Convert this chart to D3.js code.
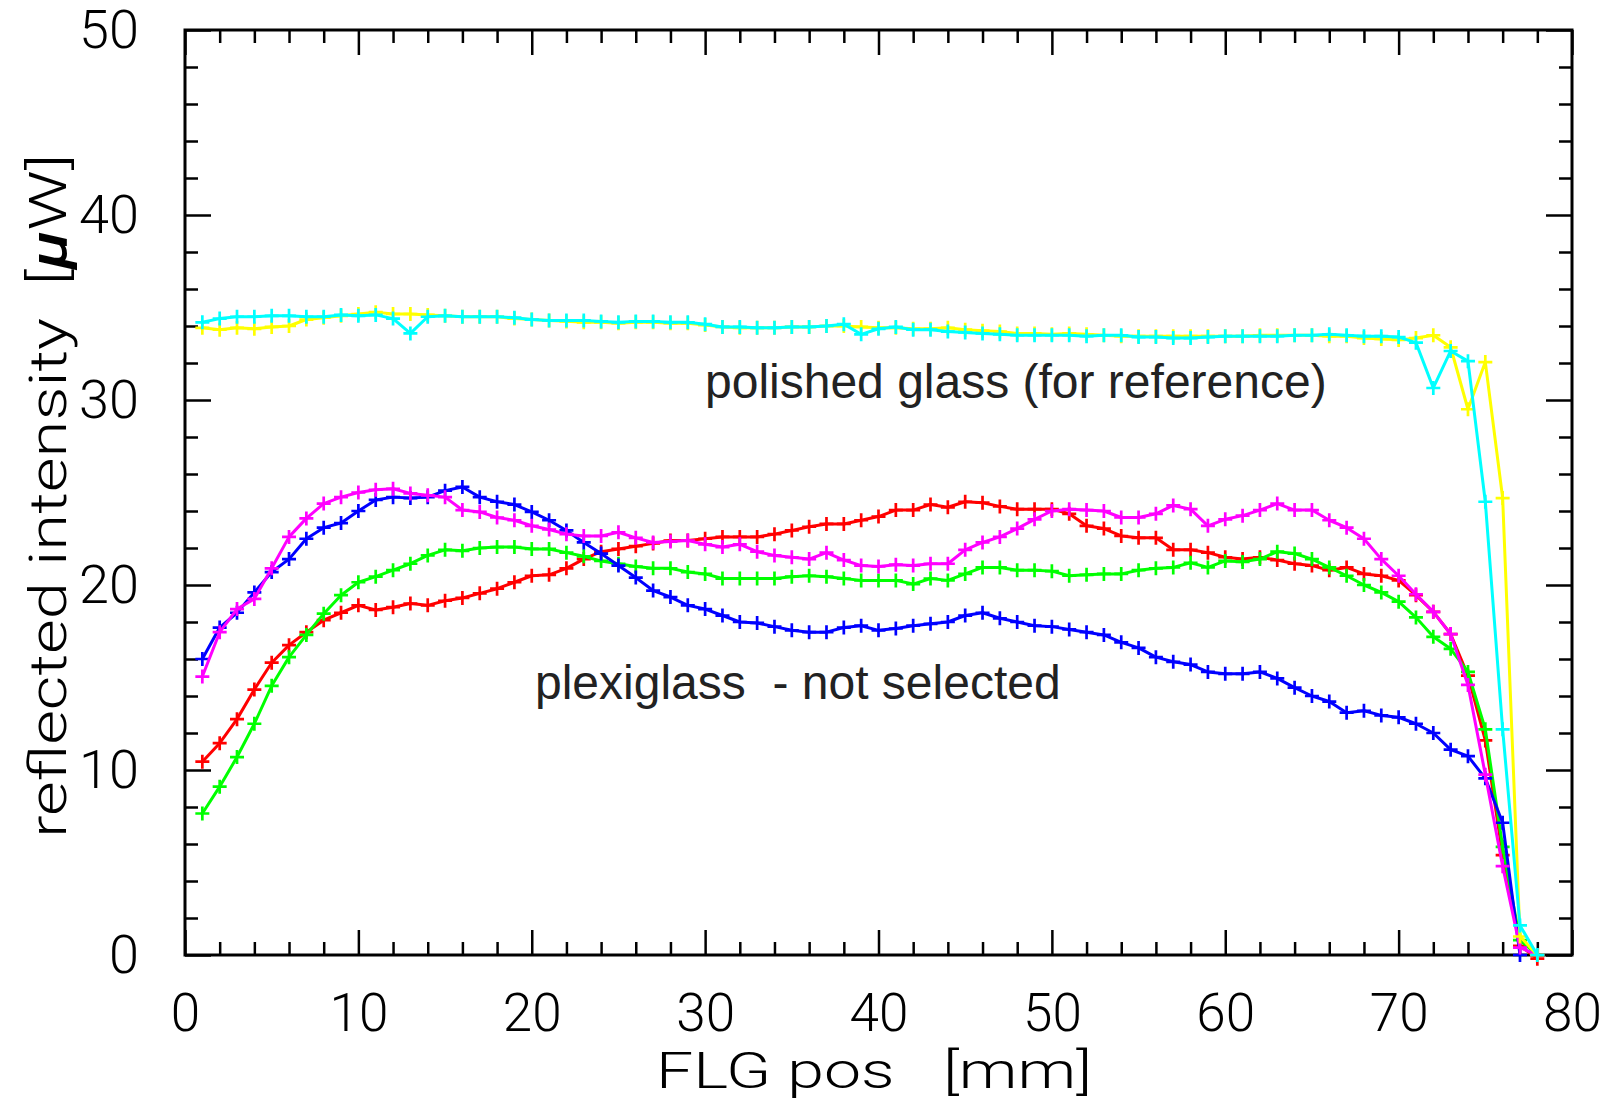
<!DOCTYPE html>
<html>
<head>
<meta charset="utf-8">
<script src="https://cdn.jsdelivr.net/npm/d3@7"></script>
<style>
  body { margin: 0; background: #fff; }
  #chart { width: 1613px; height: 1098px; }
  .tick text { font-family: Roboto, "DejaVu Sans", sans-serif; font-weight: 300; fill: #000; }
  .axisLabel { font-family: Roboto, "DejaVu Sans", sans-serif; font-weight: 300; fill: #000; }
  .note { font-family: "Liberation Sans", Arial, sans-serif; fill: #222; }
</style>
</head>
<body>
<div id="chart"></div>
<script>
// positions 1..78 mm
var pos = d3.range(1, 79);

var yellow = [33.9, 33.8, 33.9, 33.85, 33.95, 34.0, 34.35, 34.45, 34.55, 34.65, 34.75, 34.65, 34.65, 34.6, 34.55, 34.5, 34.5, 34.5, 34.4, 34.35,
  34.3, 34.25, 34.2, 34.2, 34.15, 34.2, 34.2, 34.15, 34.15, 34.05, 33.95, 33.9, 33.9, 33.9, 33.95, 33.95, 34.0, 34.0, 33.95, 33.9,
  33.9, 33.85, 33.85, 33.9, 33.8, 33.75, 33.7, 33.6, 33.6, 33.55, 33.6, 33.55, 33.5, 33.45, 33.45, 33.45, 33.45, 33.45, 33.45, 33.45,
  33.45, 33.5, 33.5, 33.5, 33.5, 33.45, 33.45, 33.35, 33.3, 33.25, 33.35, 33.5, 32.85, 29.5, 32.05, 24.7, 1.0, 0];

var cyan = [34.2, 34.4, 34.5, 34.5, 34.55, 34.55, 34.5, 34.5, 34.6, 34.55, 34.6, 34.4, 33.6, 34.5, 34.55, 34.5, 34.5, 34.5, 34.45, 34.35,
  34.3, 34.3, 34.3, 34.25, 34.2, 34.25, 34.25, 34.2, 34.2, 34.1, 33.95, 33.95, 33.9, 33.9, 33.95, 33.95, 34.0, 34.1, 33.55, 33.85,
  33.95, 33.8, 33.8, 33.7, 33.65, 33.6, 33.55, 33.5, 33.5, 33.5, 33.5, 33.45, 33.5, 33.5, 33.4, 33.4, 33.35, 33.35, 33.4, 33.45,
  33.45, 33.45, 33.45, 33.5, 33.5, 33.55, 33.5, 33.45, 33.45, 33.4, 33.1, 30.65, 32.65, 32.1, 24.5, 12.2, 1.6, 0];

var red = [10.45, 11.45, 12.75, 14.35, 15.8, 16.75, 17.45, 18.1, 18.5, 18.9, 18.65, 18.8, 19.0, 18.9, 19.15, 19.3, 19.55, 19.8, 20.15, 20.5,
  20.55, 20.9, 21.4, 21.8, 21.95, 22.1, 22.25, 22.4, 22.4, 22.5, 22.6, 22.6, 22.6, 22.75, 22.95, 23.15, 23.3, 23.3, 23.5, 23.7,
  24.05, 24.05, 24.35, 24.2, 24.5, 24.45, 24.25, 24.1, 24.1, 24.1, 23.85, 23.2, 23.05, 22.65, 22.55, 22.55, 21.9, 21.9, 21.75, 21.5,
  21.4, 21.5, 21.35, 21.15, 21.05, 20.8, 20.95, 20.6, 20.5, 20.25, 19.45, 18.55, 17.35, 15.1, 11.6, 5.4, 0.5, -0.2];

var green = [7.65, 9.1, 10.7, 12.5, 14.55, 16.1, 17.3, 18.45, 19.45, 20.15, 20.45, 20.8, 21.15, 21.6, 21.9, 21.85, 22.0, 22.05, 22.05, 21.95,
  21.95, 21.75, 21.55, 21.3, 21.15, 21.0, 20.9, 20.9, 20.7, 20.6, 20.35, 20.35, 20.35, 20.35, 20.45, 20.5, 20.45, 20.35, 20.25, 20.25,
  20.25, 20.05, 20.35, 20.25, 20.6, 20.95, 20.95, 20.8, 20.8, 20.75, 20.5, 20.55, 20.6, 20.6, 20.8, 20.9, 20.95, 21.2, 20.95, 21.3,
  21.25, 21.4, 21.8, 21.7, 21.4, 20.95, 20.5, 20.0, 19.6, 19.1, 18.25, 17.2, 16.55, 15.3, 12.2, 5.85, 0.8, 0];

var blue = [16.0, 17.7, 18.5, 19.6, 20.7, 21.4, 22.5, 23.1, 23.35, 24.0, 24.6, 24.75, 24.7, 24.75, 25.1, 25.3, 24.75, 24.5, 24.35, 23.95,
  23.5, 22.95, 22.3, 21.7, 21.05, 20.4, 19.7, 19.35, 18.9, 18.7, 18.35, 18.0, 17.95, 17.75, 17.55, 17.45, 17.45, 17.7, 17.8, 17.55,
  17.65, 17.8, 17.9, 18.0, 18.35, 18.5, 18.2, 18.0, 17.8, 17.75, 17.6, 17.45, 17.3, 16.9, 16.6, 16.1, 15.85, 15.7, 15.3, 15.2,
  15.2, 15.3, 14.95, 14.45, 14.0, 13.7, 13.1, 13.2, 12.95, 12.85, 12.5, 12.0, 11.1, 10.75, 9.55, 7.15, 0.0];

var magenta = [15.05, 17.45, 18.7, 19.25, 20.9, 22.6, 23.6, 24.4, 24.75, 25.0, 25.15, 25.2, 24.95, 24.85, 24.75, 24.05, 23.95, 23.65, 23.5, 23.2,
  23.0, 22.75, 22.65, 22.65, 22.85, 22.55, 22.3, 22.35, 22.4, 22.2, 22.05, 22.2, 21.8, 21.6, 21.5, 21.4, 21.75, 21.35, 21.05, 21.0,
  21.1, 21.05, 21.15, 21.15, 21.9, 22.3, 22.6, 23.05, 23.55, 24.0, 24.1, 24.05, 24.0, 23.65, 23.65, 23.85, 24.3, 24.1, 23.2, 23.55,
  23.75, 24.05, 24.4, 24.05, 24.05, 23.5, 23.1, 22.5, 21.4, 20.5, 19.5, 18.55, 17.35, 14.6, 9.75, 4.8, 0.4, 0];

var seriesNames = ["red", "green", "blue", "magenta", "yellow", "cyan"];
var seriesValues = [red, green, blue, magenta, yellow, cyan];
var seriesColors = ["#ff0000", "#00ff00", "#0000ff", "#ff00ff", "#ffff00", "#00ffff"];

var xMajor = [0, 10, 20, 30, 40, 50, 60, 70, 80];
var yMajor = [0, 10, 20, 30, 40, 50];

var width = 1613;
var height = 1098;
var margin = {top: 30, left: 185, right: 41, bottom: 143};

var svg = d3.select("#chart")
    .append("svg")
    .attr("width", width)
    .attr("height", height);

var xScale = d3.scaleLinear()
    .domain([0, 80])
    .range([margin.left, width - margin.right]);

var yScale = d3.scaleLinear()
    .domain([0, 50])
    .range([height - margin.bottom, margin.top]);

var xMinor = d3.range(0, 81, 2).filter(function(d) { return d % 10 != 0; });
var yMinor = d3.range(0, 51, 2).filter(function(d) { return d % 10 != 0; });

var plotW = width - margin.left - margin.right;
var plotH = height - margin.top - margin.bottom;

function styleAxis(g) {
    g.select(".domain").remove();
    g.selectAll(".tick line").attr("stroke", "#000").attr("stroke-width", 2.5);
}

// bottom
svg.append("g")
    .attr("transform", `translate(0,${height - margin.bottom})`)
    .call(d3.axisBottom(xScale).tickValues(xMajor).tickSize(-25).tickPadding(38).tickFormat(d3.format("d")))
    .call(styleAxis)
    .selectAll("text").style("font-size", "53px");
svg.append("g")
    .attr("transform", `translate(0,${height - margin.bottom})`)
    .call(d3.axisBottom(xScale).tickValues(xMinor).tickSize(-13).tickFormat(""))
    .call(styleAxis);

// top
svg.append("g")
    .attr("transform", `translate(0,${margin.top})`)
    .call(d3.axisTop(xScale).tickValues(xMajor).tickSize(-25).tickFormat(""))
    .call(styleAxis);
svg.append("g")
    .attr("transform", `translate(0,${margin.top})`)
    .call(d3.axisTop(xScale).tickValues(xMinor).tickSize(-13).tickFormat(""))
    .call(styleAxis);

// left
svg.append("g")
    .attr("transform", `translate(${margin.left},0)`)
    .call(d3.axisLeft(yScale).tickValues(yMajor).tickSize(-26).tickPadding(46).tickFormat(d3.format("d")))
    .call(styleAxis)
    .selectAll("text").style("font-size", "54px");
svg.append("g")
    .attr("transform", `translate(${margin.left},0)`)
    .call(d3.axisLeft(yScale).tickValues(yMinor).tickSize(-13).tickFormat(""))
    .call(styleAxis);

// right
svg.append("g")
    .attr("transform", `translate(${width - margin.right},0)`)
    .call(d3.axisRight(yScale).tickValues(yMajor).tickSize(-26).tickFormat(""))
    .call(styleAxis);
svg.append("g")
    .attr("transform", `translate(${width - margin.right},0)`)
    .call(d3.axisRight(yScale).tickValues(yMinor).tickSize(-13).tickFormat(""))
    .call(styleAxis);

svg.append("rect")
    .attr("x", margin.left)
    .attr("y", margin.top)
    .attr("width", plotW)
    .attr("height", plotH)
    .attr("fill", "none")
    .attr("stroke", "#000")
    .attr("stroke-width", 3);

var line = d3.line()
    .x(function(d) { return xScale(d[0]); })
    .y(function(d) { return yScale(d[1]); });

seriesValues.forEach(function(vals, i) {
    var pts = vals.map(function(v, j) { return [pos[j], v]; });
    var g = svg.append("g").attr("class", "series-" + seriesNames[i]);
    g.append("path")
        .datum(pts)
        .attr("d", line)
        .attr("fill", "none")
        .attr("stroke", seriesColors[i])
        .attr("stroke-width", 3)
        .attr("stroke-linejoin", "round");
    g.selectAll("path.marker")
        .data(pts)
        .enter()
        .append("path")
            .attr("class", "marker")
            .attr("d", function(d) {
                var cx = xScale(d[0]), cy = yScale(d[1]), s = 7;
                return `M${cx - s},${cy}H${cx + s}M${cx},${cy - s}V${cy + s}`;
            })
            .attr("stroke", seriesColors[i])
            .attr("stroke-width", 2.7);
});

svg.append("text")
    .attr("class", "note")
    .attr("x", 705)
    .attr("y", 398)
    .style("font-size", "48px")
    .text("polished glass (for reference)");

svg.append("text")
    .attr("class", "note")
    .attr("x", 535)
    .attr("y", 699)
    .style("font-size", "48px")
    .text("plexiglass\u00a0 - not selected");

svg.append("text")
    .attr("class", "axisLabel")
    .attr("x", 874)
    .attr("y", 1088)
    .attr("text-anchor", "middle")
    .attr("textLength", 436)
    .attr("lengthAdjust", "spacingAndGlyphs")
    .style("font-size", "50px")
    .text("FLG\u00a0pos\u00a0\u00a0\u00a0[mm]");

var yTitle = svg.append("text")
    .attr("class", "axisLabel")
    .attr("transform", "rotate(-90)")
    .attr("x", -496)
    .attr("y", 66)
    .attr("text-anchor", "middle")
    .attr("textLength", 684)
    .attr("lengthAdjust", "spacingAndGlyphs")
    .style("font-size", "52px");
yTitle.append("tspan").text("reflected\u00a0intensity\u00a0\u00a0[");
yTitle.append("tspan").style("font-style", "italic").style("font-weight", "500").text("\u03bc");
yTitle.append("tspan").text("W]");
</script>
</body>
</html>
